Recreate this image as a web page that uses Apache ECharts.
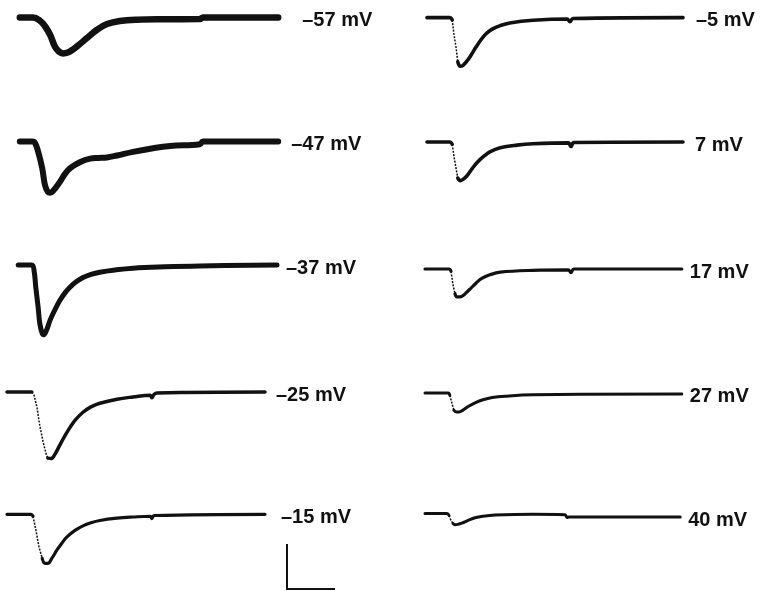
<!DOCTYPE html>
<html>
<head>
<meta charset="utf-8">
<script src="https://cdn.jsdelivr.net/npm/echarts@6/dist/echarts.min.js"></script>
<style>
  html, body { margin: 0; padding: 0; background: #fff; }
  #chart { width: 767px; height: 591px; }
</style>
</head>
<body>
<div id="chart"></div>
<script>
// Membrane current traces, [time (ms), current (nA)], one per test potential.
const traceM57 = [[1.6,0],[3.25,0],[4.1,-0.07],[4.75,-0.2],[5.4,-0.4],[6,-0.67],[6.5,-0.78],[7,-0.82],[7.6,-0.8],[8.25,-0.73],[8.75,-0.66],[10,-0.47],[11.25,-0.28],[12.5,-0.15],[14.1,-0.08],[16.25,-0.05],[20,-0.04],[24.1,-0.035],[24.5,0],[33.9,0]];
const traceM47 = [[1.6,0],[3.2,0],[3.5,-0.03],[3.9,-0.23],[4.4,-0.59],[4.75,-0.97],[5.1,-1.12],[5.4,-1.14],[5.75,-1.1],[6.6,-0.9],[7.25,-0.72],[7.9,-0.59],[9.1,-0.46],[10.4,-0.38],[11.4,-0.365],[12.5,-0.355],[13.75,-0.31],[15.75,-0.23],[18.25,-0.15],[20.4,-0.1],[24.1,-0.06],[24.5,0],[33.9,0]];
const traceM37 = [[1.4,0],[3.1,0],[3.4,-0.15],[3.6,-0.5],[3.9,-0.95],[4.1,-1.3],[4.4,-1.52],[4.6,-1.55],[5,-1.42],[5.4,-1.22],[6,-0.99],[6.6,-0.79],[7.25,-0.62],[7.9,-0.49],[8.6,-0.38],[9.5,-0.28],[10.5,-0.21],[11.6,-0.16],[13.5,-0.11],[15.75,-0.07],[19.75,-0.04],[24.1,-0.02],[33.75,0]];
const traceM25 = [[0,0],[3.1,0],[3.4,-0.08],[3.75,-0.35],[4.1,-0.75],[4.5,-1.1],[4.9,-1.38],[5.1,-1.47],[5.5,-1.48],[6,-1.38],[6.6,-1.18],[7.25,-0.97],[7.9,-0.78],[8.6,-0.61],[9.5,-0.45],[10.5,-0.33],[11.6,-0.25],[13.75,-0.16],[15.75,-0.11],[17.9,-0.07],[18.1,-0.13],[18.4,-0.05],[18.75,-0.02],[32.25,0]];
const traceM15 = [[0,0],[3,0],[3.25,-0.05],[3.6,-0.4],[4,-0.85],[4.4,-1.15],[4.75,-1.28],[5.1,-1.28],[5.6,-1.15],[6.25,-0.93],[6.9,-0.74],[7.5,-0.59],[8.5,-0.42],[9.5,-0.3],[10.5,-0.22],[11.6,-0.16],[13.75,-0.1],[15.75,-0.07],[17.9,-0.05],[18.1,-0.11],[18.4,-0.03],[32.25,0]];
const traceM5 = [[0.25,0],[3.1,0],[3.4,-0.05],[3.6,-0.35],[3.9,-0.7],[4.1,-1.0],[4.4,-1.1],[4.75,-1.08],[5.25,-0.98],[5.75,-0.85],[6.4,-0.66],[7,-0.5],[7.6,-0.37],[8.4,-0.26],[9.4,-0.18],[10.6,-0.12],[13.5,-0.06],[17.75,-0.03],[18.1,-0.09],[18.5,-0.02],[32.25,0]];
const traceP7 = [[0.25,0],[3.1,0],[3.4,-0.05],[3.6,-0.3],[3.9,-0.6],[4.1,-0.8],[4.4,-0.86],[4.75,-0.83],[5.25,-0.75],[5.9,-0.59],[6.6,-0.44],[7.4,-0.31],[8.1,-0.22],[9.4,-0.13],[11.5,-0.07],[13.5,-0.04],[17.9,-0.02],[18.25,-0.1],[18.6,-0.01],[32.25,0]];
const traceP17 = [[0,0],[3,0],[3.25,-0.05],[3.5,-0.35],[3.75,-0.55],[4,-0.62],[4.4,-0.62],[4.9,-0.57],[5.6,-0.45],[6.4,-0.31],[7.1,-0.21],[8.1,-0.13],[9.4,-0.07],[13.5,-0.03],[17.9,-0.02],[18.25,-0.08],[18.6,0],[32.1,0]];
const traceP27 = [[0,0],[2.9,0],[3.1,-0.05],[3.4,-0.25],[3.6,-0.38],[3.9,-0.42],[4.25,-0.42],[4.75,-0.38],[5.4,-0.3],[6.25,-0.22],[7.25,-0.15],[8.4,-0.1],[10,-0.07],[13.5,-0.04],[32.1,-0.02]];
const traceP40 = [[0,0],[2.75,0],[3,-0.05],[3.25,-0.18],[3.5,-0.26],[3.75,-0.29],[4.1,-0.28],[4.6,-0.25],[5.4,-0.18],[6.25,-0.11],[7.25,-0.07],[8.75,-0.04],[13.5,-0.02],[17.5,-0.03],[17.75,-0.1],[18,-0.09],[31.9,-0.09]];

// Test potential labels
const leftLabels  = ['\u201357 mV', '\u201347 mV', '\u201337 mV', '\u201325 mV', '\u201315 mV'];
const rightLabels = ['\u20135 mV', '7 mV', '17 mV', '27 mV', '40 mV'];

// Calibration bar: current (nA) and time (ms)
const scaleBarNa = 1;
const scaleBarMs = 6;

// ---- layout (pixels) and styling ----
const PX_PER_MS = 8, PX_PER_NA = 45;
const T_MAX = 34, I_MIN = -2, I_MAX = 0.4;
const columns = [
  { left: 7,   traces: [traceM57, traceM47, traceM37, traceM25, traceM15], labels: leftLabels,
    baselines: [15, 141.5, 265, 392, 517], widths: [6.5, 6, 5, 3.5, 3.2], fast: [false, false, false, true, true],
    labelGap: [24, 13, 9, 11, 16] },
  { left: 425, traces: [traceM5, traceP7, traceP17, traceP27, traceP40], labels: rightLabels,
    baselines: [16, 142, 269, 393, 516], widths: [3.6, 3.6, 3.2, 3, 3], fast: [true, true, true, true, true],
    labelGap: [13, 12, 8, 8, 8] }
];
const INK = '#111';
const labelFont = { fontFamily: 'Liberation Sans, Arial, sans-serif', fontWeight: 'bold', fontSize: 20, color: INK, offset: [0, 3] };

const grids = [], xAxes = [], yAxes = [], series = [];

function addGrid(g, x, y) {
  grids.push(g);
  xAxes.push(Object.assign({ type: 'value', gridIndex: grids.length - 1, show: false }, x));
  yAxes.push(Object.assign({ type: 'value', gridIndex: grids.length - 1, show: false }, y));
  return grids.length - 1;
}

function lineSeries(idx, data, width, extra) {
  return Object.assign({
    type: 'line', xAxisIndex: idx, yAxisIndex: idx, data: data,
    showSymbol: false, symbol: 'none', smooth: 0.4, clip: false, silent: true,
    lineStyle: { color: INK, width: width, cap: 'round', join: 'round' }
  }, extra || {});
}

columns.forEach(col => {
  col.traces.forEach((data, k) => {
    const idx = addGrid(
      { left: col.left, top: col.baselines[k] - I_MAX * PX_PER_NA,
        width: T_MAX * PX_PER_MS, height: (I_MAX - I_MIN) * PX_PER_NA },
      { min: 0, max: T_MAX }, { min: I_MIN, max: I_MAX });
    const endLabel = Object.assign({ show: true, formatter: col.labels[k], distance: col.labelGap[k] }, labelFont);
    if (!col.fast[k]) {
      series.push(lineSeries(idx, data, col.widths[k], { name: col.labels[k], endLabel: endLabel }));
      return;
    }
    // fast rising phase of the current is recorded as a faint, broken stroke
    let minIdx = 0;
    data.forEach((p, i) => { if (p[1] < data[minIdx][1]) minIdx = i; });
    let onset = 0;
    for (let i = 0; i < minIdx; i++) if (data[i][1] > -0.06) onset = i;
    const fastEnd = Math.max(onset + 1, minIdx - 1);
    series.push(lineSeries(idx, data.slice(0, onset + 1), col.widths[k]));
    series.push(lineSeries(idx, data.slice(onset, fastEnd + 1), 1.5, { smooth: false,
      lineStyle: { color: INK, width: 1.5, type: [2, 1.3] } }));
    series.push(lineSeries(idx, data.slice(fastEnd), col.widths[k], { name: col.labels[k], endLabel: endLabel }));
  });
});

// calibration bar
const sIdx = addGrid(
  { left: 287, top: 544, width: scaleBarMs * PX_PER_MS, height: scaleBarNa * PX_PER_NA },
  { min: 0, max: scaleBarMs }, { min: 0, max: scaleBarNa });
series.push(lineSeries(sIdx, [[0, scaleBarNa], [0, 0], [scaleBarMs, 0]], 2,
  { smooth: false, lineStyle: { color: INK, width: 2, cap: 'butt', join: 'miter' } }));

const chart = echarts.init(document.getElementById('chart'), null, { renderer: 'canvas' });
chart.setOption({
  animation: false,
  backgroundColor: '#fff',
  grid: grids, xAxis: xAxes, yAxis: yAxes, series: series
});
</script>
</body>
</html>
